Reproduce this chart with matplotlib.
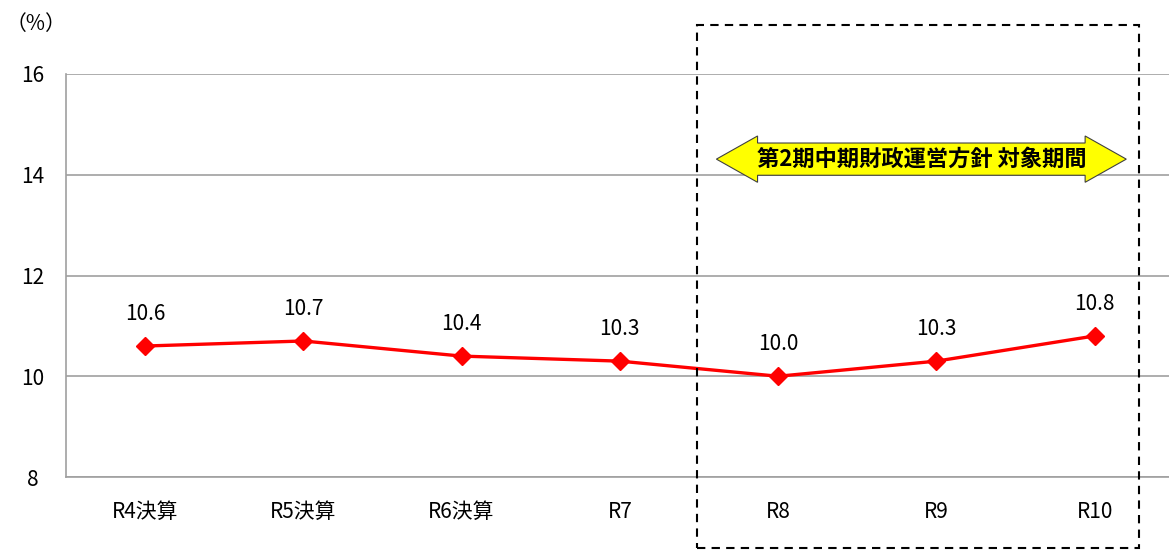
import matplotlib
matplotlib.use('Agg')
import matplotlib.pyplot as plt
from matplotlib.patches import Polygon, Rectangle

plt.rcParams['font.family'] = ['Noto Sans CJK JP', 'DejaVu Sans']

# data
categories = ['R4決算', 'R5決算', 'R6決算', 'R7', 'R8', 'R9', 'R10']
ratio = [10.6, 10.7, 10.4, 10.3, 10.0, 10.3, 10.8]
yticks = [8, 10, 12, 14, 16]
period_label = '第2期中期財政運営方針 対象期間'

fig = plt.figure(figsize=(11.69, 5.5), dpi=100)
ax = fig.add_axes([66/1169, 73/550, 1 - 66/1169, 403/550])

x = list(range(len(categories)))
ax.plot(x, ratio, color='#ff0000', lw=2.4, marker='D', markersize=9,
        markerfacecolor='#ff0000', markeredgecolor='#ff0000', zorder=3)
for xi, v in zip(x, ratio):
    ax.annotate(f'{v:.1f}', (xi, v), xytext=(0, 23), textcoords='offset points',
                ha='center', va='center', fontsize=15)

ax.set_xlim(-0.5, 6.47)
ax.set_ylim(8, 16)
ax.set_yticks(yticks)
ax.set_yticklabels([str(t) for t in yticks], fontsize=15)
ax.set_xticks(x)
ax.set_xticklabels(categories, fontsize=15)
ax.tick_params(axis='both', length=0)
ax.tick_params(axis='y', pad=24)
ax.tick_params(axis='x', pad=17)
for lab in ax.get_yticklabels():
    lab.set_horizontalalignment('center')
ax.grid(axis='y', color='#a0a0a0', lw=1.2)
ax.set_axisbelow(True)
for s in ['top', 'right']:
    ax.spines[s].set_visible(False)
ax.spines['left'].set_color('#a0a0a0')
ax.spines['bottom'].set_color('#a0a0a0')
ax.spines['left'].set_linewidth(1.2)
ax.spines['bottom'].set_linewidth(1.2)

fig.text(6/1169, 1 - 24/550, '（%）', fontsize=15, va='center', ha='left')

# dashed frame for the target period
rect = Rectangle((3.49, 6.59), 6.28 - 3.49, 16.97 - 6.59, fill=False,
                 ls=(0, (4, 3)), lw=1.5, ec='black', clip_on=False, zorder=4)
ax.add_patch(rect)

# double arrow
yc, hh, bh = 14.31, 0.46, 0.32
xl, xr, hl, hr = 3.61, 6.20, 3.87, 5.94
pts = [(xl, yc), (hl, yc + hh), (hl, yc + bh), (hr, yc + bh), (hr, yc + hh),
       (xr, yc), (hr, yc - hh), (hr, yc - bh), (hl, yc - bh), (hl, yc - hh)]
ax.add_patch(Polygon(pts, closed=True, fc='#ffff00', ec='#404040', lw=0.8,
                     clip_on=False, zorder=5))
ax.text((xl + xr) / 2, yc, period_label, ha='center', va='center',
        fontsize=16, fontweight='bold', zorder=6)

fig.savefig('out.png', dpi=100)
